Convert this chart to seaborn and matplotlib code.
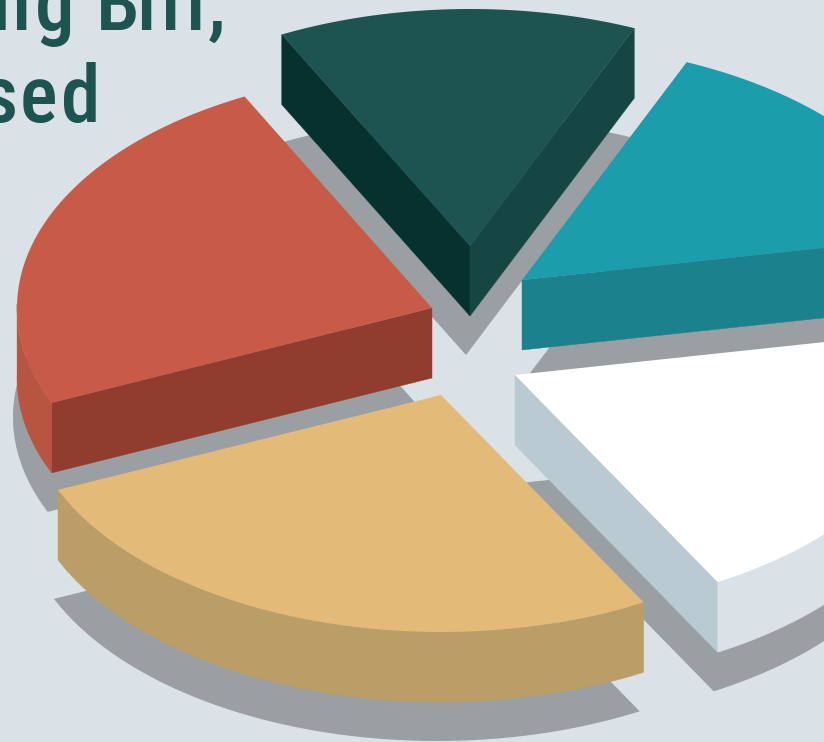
import numpy as np
import matplotlib
matplotlib.use("Agg")
import matplotlib.pyplot as plt
import seaborn as sns

# Share of each slice, going clockwise from the lower right edge of the gold slice
categories = ["gold", "red", "green", "teal", "white"]
shares = [26.5, 24.1, 13.9, 15.6, 19.9]
heading_one = ["n", "g", "B", "i", "l", "l", ","]
heading_two = ["s", "e", "d"]

# Palette: top face and rim of each slice
top_colors = ["#e4ba78", "#c75b48", "#1d5350", "#1c9dab", "#ffffff"]
rim_colors = ["#bb9d66", "#b85540", "#1d5350", "#1a818d", "#dae1e7"]
background = "#dae1e7"
shadow_color = "#9a9fa3"
ink = "#1d5350"
wall_red = "#903d2f"
wall_green_left = "#06312f"
wall_green_right = "#164643"
wall_teal = "#1a818d"
wall_white = "#b9cad3"

# Layout of the exploded pie, in figure pixels
apex_points = [(441, 395), (432, 308), (470, 246), (522, 280), (515, 375)]
radii_x = [418, 415, 417, 418, 418]
radius_y = 237
depth = 70
shadow_shift = (-4, 39)
start_angle = -61.0

# Right edge of each heading glyph, which sets the wide letter spacing
heading_one_right = [30.5, 74, 139.5, 155.5, 180.5, 205.5, 225]
heading_two_right = [18, 57, 100.5]

sns.set_theme(style="white", rc={"axes.facecolor": background, "figure.facecolor": background})
plt.rcParams["font.family"] = ["Roboto Condensed", "Liberation Sans", "DejaVu Sans"]

fig = plt.figure(figsize=(8.24, 7.42), dpi=100)
ax = fig.add_axes([0, 0, 1, 1])
ax.set_xlim(0, 824)
ax.set_ylim(742, 0)
ax.set_axis_off()

spans = 360.0 * np.array(shares) / np.sum(shares)
starts = start_angle - np.concatenate([[0], np.cumsum(spans)[:-1]])
wedges = []
for apex, radius_x, begin, span in zip(apex_points, radii_x, starts, spans):
    theta = np.radians(np.linspace(begin, begin - span, 160))
    arc = np.column_stack([apex[0] + radius_x * np.cos(theta), apex[1] - radius_y * np.sin(theta)])
    wedges.append((np.array(apex, dtype=float), arc))


def draw_wall(p, q, color, z):
    """Quad hanging straight down from the edge p-q."""
    quad = np.array([p, q, q + [0, depth], p + [0, depth]])
    ax.fill(quad[:, 0], quad[:, 1], color=color, lw=0.3, ec=color, zorder=z)


# Ground shadows sit under every slice
for apex, arc in wedges:
    outline = np.vstack([apex, arc]) + [shadow_shift[0], shadow_shift[1] + depth]
    ax.fill(outline[:, 0], outline[:, 1], color=shadow_color, lw=0, zorder=1)

# Back slices first so the front ones overlap them; arc runs clockwise across each slice
for rank, i in enumerate([2, 3, 1, 4, 0]):
    apex, arc = wedges[i]
    name = categories[i]
    z = 2 + rank
    if name == "red":
        draw_wall(apex, arc[0], wall_red, z)
    elif name == "green":
        draw_wall(apex, arc[0], wall_green_left, z)
        draw_wall(apex, arc[-1], wall_green_right, z)
    elif name == "teal":
        draw_wall(apex, arc[-1], wall_teal, z)
    elif name == "white":
        draw_wall(apex, arc[-1], wall_white, z)
    front = arc[arc[:, 1] >= apex[1] - 4]
    if name != "green" and len(front):
        rim = np.vstack([front, front[::-1] + [0, depth]])
        ax.fill(rim[:, 0], rim[:, 1], color=rim_colors[i], lw=0.3, ec=rim_colors[i], zorder=z)
    face = np.vstack([apex, arc])
    ax.fill(face[:, 0], face[:, 1], color=top_colors[i], lw=0, zorder=z + 0.5)

# Heading fragments, set glyph by glyph
for glyphs, rights, baseline in [(heading_one, heading_one_right, 30), (heading_two, heading_two_right, 122)]:
    for ch, x in zip(glyphs, rights):
        ax.text(x, baseline, ch, color=ink, ha="right", va="baseline", fontsize=57, fontweight=500, zorder=20)

fig.savefig("out.png", dpi=100, facecolor=background)
